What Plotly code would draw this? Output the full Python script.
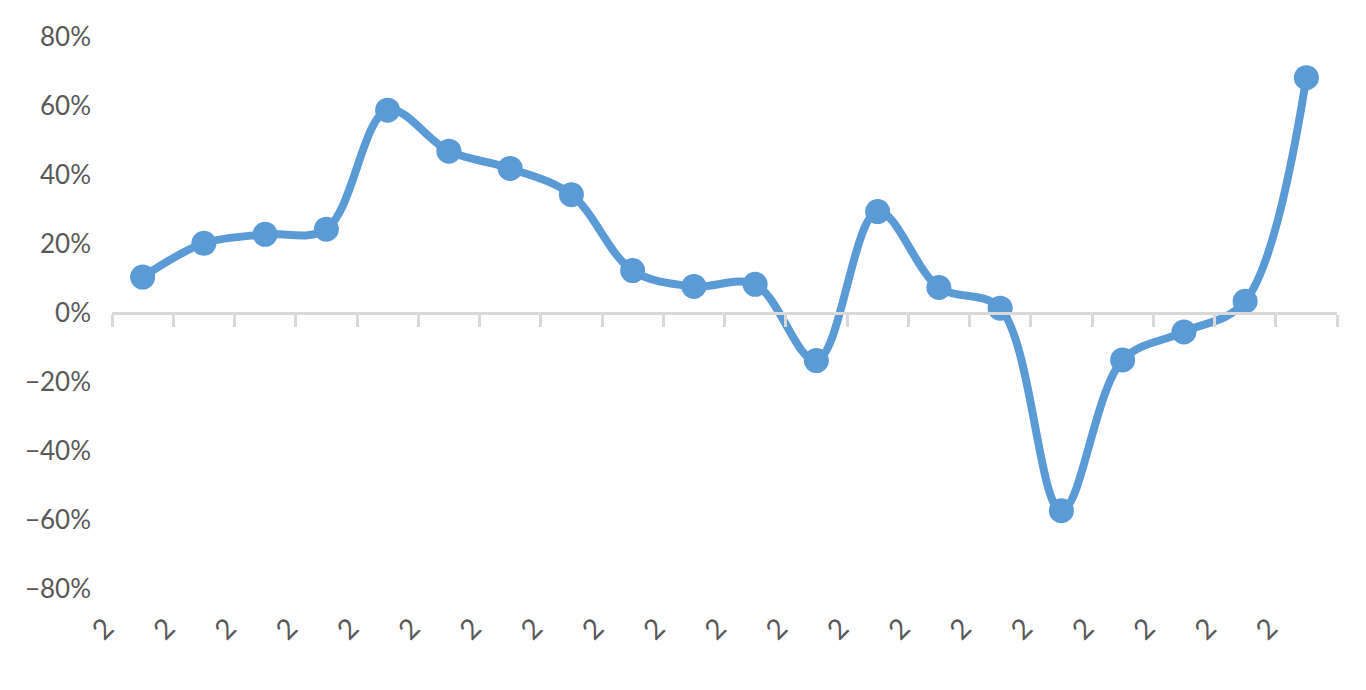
import plotly.graph_objects as go

# 20 periods; the category labels are cut down to "2" in the original chart
periods = list(range(20))
period_labels = ["2"] * 20
growth_pct = [
    10.4, 20.2, 22.8, 24.3, 58.8, 46.9, 41.9, 34.3, 12.3, 7.7,
    8.3, -13.8, 29.4, 7.4, 1.4, -57.3, -13.6, -5.5, 3.4, 68.2,
]
y_ticks = [-80, -60, -40, -20, 0, 20, 40, 60, 80]
y_tick_text = [("\u2212" + f"{-v}%") if v < 0 else f"{v}%" for v in y_ticks]

LINE_COLOR = "#5B9BD5"
AXIS_COLOR = "#D9D9D9"
TEXT_COLOR = "#595959"
FONT = "Lato, 'Open Sans', sans-serif"

fig = go.Figure()

fig.add_trace(
    go.Scatter(
        x=periods,
        y=growth_pct,
        mode="lines+markers",
        line=dict(color=LINE_COLOR, width=8, shape="spline", smoothing=1.0),
        marker=dict(color=LINE_COLOR, size=25),
        hovertemplate="%{y:.1f}%<extra></extra>",
    )
)

# invisible copy so the bottom label axis gets drawn
fig.add_trace(
    go.Scatter(x=periods, y=growth_pct, xaxis="x2", mode="markers",
               marker=dict(opacity=0), hoverinfo="skip")
)

x_range = [-0.5, len(periods) - 0.5]

fig.update_layout(
    width=1350,
    height=674,
    margin=dict(l=104, r=21, t=25, b=93),
    plot_bgcolor="white",
    paper_bgcolor="white",
    showlegend=False,
    font=dict(family=FONT, color=TEXT_COLOR, size=26),
    # axis line with ticks drawn across y = 0
    xaxis=dict(
        range=x_range,
        tick0=-0.5,
        dtick=1,
        showticklabels=False,
        showgrid=False,
        zeroline=False,
        showline=True,
        linecolor=AXIS_COLOR,
        linewidth=2.5,
        ticks="outside",
        ticklen=12,
        tickwidth=2.5,
        tickcolor=AXIS_COLOR,
        anchor="free",
        position=0.5,
    ),
    # category labels at the bottom
    xaxis2=dict(
        range=x_range,
        overlaying="x",
        side="bottom",
        anchor="y",
        tickvals=periods,
        ticktext=period_labels,
        tickangle=-45,
        ticklabelshift=-37,
        ticklabelstandoff=16,
        showgrid=False,
        zeroline=False,
        showline=False,
        ticks="",
        tickfont=dict(size=28, color=TEXT_COLOR),
    ),
    yaxis=dict(
        range=[-80, 80],
        tickvals=y_ticks,
        ticktext=y_tick_text,
        showgrid=False,
        zeroline=False,
        showline=False,
        ticks="",
        ticklabelstandoff=20,
        tickfont=dict(size=26, color=TEXT_COLOR),
    ),
)

fig.write_html("out.html")
